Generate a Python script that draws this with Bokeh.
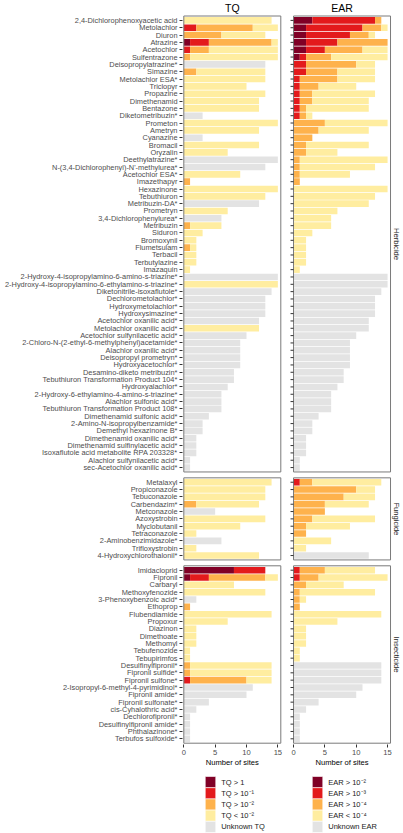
import math
from bokeh.plotting import figure
from bokeh.layouts import column
from bokeh.models import Range1d, FixedTicker, ColumnDataSource
from bokeh.core.properties import value
from bokeh.embed import file_html
from bokeh.resources import INLINE

# ---------------- data (number of sites per category) ----------------
# category order: [> high, > mid, > low, < low, unknown]
herbicide_names = [
    "2,4-Dichlorophenoxyacetic acid", "Metolachlor", "Diuron", "Atrazine", "Acetochlor",
    "Sulfentrazone", "Deisopropylatrazine*", "Simazine", "Metolachlor ESA*", "Triclopyr",
    "Propazine", "Dimethenamid", "Bentazone", "Diketometribuzin*", "Prometon", "Ametryn",
    "Cyanazine", "Bromacil", "Oryzalin", "Deethylatrazine*",
    "N-(3,4-Dichlorophenyl)-N'-methylurea*", "Acetochlor ESA*", "Imazethapyr", "Hexazinone",
    "Tebuthiuron", "Metribuzin-DA*", "Prometryn", "3,4-Dichlorophenylurea*", "Metribuzin",
    "Siduron", "Bromoxynil", "Flumetsulam", "Terbacil", "Terbutylazine", "Imazaquin",
    "2-Hydroxy-4-isopropylamino-6-amino-s-triazine*",
    "2-Hydroxy-4-isopropylamino-6-ethylamino-s-triazine*",
    "Diketonitrile-isoxaflutole*", "Dechlorometolachlor*", "Hydroxymetolachlor*",
    "Hydroxysimazine*", "Acetochlor oxanilic acid*", "Metolachlor oxanilic acid*",
    "Acetochlor sulfynilacetic acid*", "2-Chloro-N-(2-ethyl-6-methylphenyl)acetamide*",
    "Alachlor oxanilic acid*", "Deisopropyl prometryn*", "Hydroxyacetochlor*",
    "Desamino-diketo metribuzin*", "Tebuthiuron Transformation Product 104*",
    "Hydroxyalachlor*", "2-Hydroxy-6-ethylamino-4-amino-s-triazine*",
    "Alachlor sulfonic acid*", "Tebuthiuron Transformation Product 108*",
    "Dimethenamid sulfonic acid*", "2-Amino-N-isopropylbenzamide*",
    "Demethyl hexazinone B*", "Dimethenamid oxanilic acid*",
    "Dimethenamid sulfinylacetic acid*", "Isoxaflutole acid metabolite RPA 203328*",
    "Alachlor sulfynilacetic acid*", "sec-Acetochlor oxanilic acid*",
]
herbicide_tq = [
    (0, 0, 0, 14, 0), (0, 2, 9, 4, 0), (0, 0, 6, 7, 0), (1, 3, 10, 1, 0), (0, 1, 3, 11, 0),
    (0, 0, 1, 14, 0), (0, 0, 0, 0, 13), (0, 0, 2, 11, 0), (0, 0, 0, 13, 0), (0, 0, 0, 10, 0),
    (0, 0, 0, 13, 0), (0, 0, 0, 12, 0), (0, 0, 0, 12, 0), (0, 0, 0, 0, 3), (0, 0, 0, 15, 0),
    (0, 0, 0, 12, 0), (0, 0, 0, 0, 3), (0, 0, 0, 12, 0), (0, 0, 0, 7, 0), (0, 0, 0, 0, 15),
    (0, 0, 0, 0, 13), (0, 0, 0, 9, 0), (0, 0, 1, 0, 0), (0, 0, 0, 15, 0),
    (0, 0, 0, 13, 0), (0, 0, 0, 0, 12), (0, 0, 0, 7, 0), (0, 0, 0, 0, 6), (0, 0, 1, 5, 0),
    (0, 0, 0, 3, 0), (0, 0, 0, 2, 0), (0, 0, 1, 1, 0), (0, 0, 0, 2, 0), (0, 0, 0, 2, 0),
    (0, 0, 0, 1, 0),
    (0, 0, 0, 0, 15), (0, 0, 0, 15, 0), (0, 0, 0, 0, 14), (0, 0, 0, 0, 13), (0, 0, 0, 0, 13),
    (0, 0, 0, 0, 13), (0, 0, 0, 0, 12), (0, 0, 0, 12, 0), (0, 0, 0, 0, 10), (0, 0, 0, 0, 9),
    (0, 0, 0, 0, 9), (0, 0, 0, 0, 9), (0, 0, 0, 0, 9), (0, 0, 0, 0, 8), (0, 0, 0, 0, 8),
    (0, 0, 0, 0, 7), (0, 0, 0, 0, 6), (0, 0, 0, 0, 6), (0, 0, 0, 0, 6), (0, 0, 0, 0, 4),
    (0, 0, 0, 0, 3), (0, 0, 0, 0, 3), (0, 0, 0, 0, 2), (0, 0, 0, 0, 2), (0, 0, 0, 0, 2),
    (0, 0, 0, 0, 1), (0, 0, 0, 0, 1),
]
herbicide_ear = [
    (3, 10, 1, 0, 0), (2, 9, 3, 1, 0), (2, 7, 3, 1, 0), (2, 5, 8, 0, 0), (2, 3, 6, 4, 0),
    (1, 1, 4, 9, 0), (0, 2, 8, 3, 0), (0, 2, 5, 6, 0), (0, 1, 6, 6, 0), (0, 1, 3, 6, 0),
    (0, 1, 2, 10, 0), (0, 1, 2, 9, 0), (0, 1, 1, 10, 0), (0, 1, 1, 1, 0), (0, 0, 5, 10, 0),
    (0, 0, 4, 8, 0), (0, 0, 3, 0, 0), (0, 0, 2, 10, 0), (0, 0, 2, 5, 0), (0, 0, 1, 14, 0),
    (0, 0, 1, 12, 0), (0, 0, 1, 8, 0), (0, 0, 1, 0, 0), (0, 0, 0, 15, 0),
    (0, 0, 0, 13, 0), (0, 0, 0, 12, 0), (0, 0, 0, 7, 0), (0, 0, 0, 6, 0), (0, 0, 0, 6, 0),
    (0, 0, 0, 3, 0), (0, 0, 0, 2, 0), (0, 0, 0, 2, 0), (0, 0, 0, 2, 0), (0, 0, 0, 2, 0),
    (0, 0, 0, 1, 0),
    (0, 0, 0, 0, 15), (0, 0, 0, 0, 15), (0, 0, 0, 0, 14), (0, 0, 0, 0, 13), (0, 0, 0, 0, 13),
    (0, 0, 0, 0, 13), (0, 0, 0, 0, 12), (0, 0, 0, 0, 12), (0, 0, 0, 0, 10), (0, 0, 0, 0, 9),
    (0, 0, 0, 0, 9), (0, 0, 0, 0, 9), (0, 0, 0, 0, 9), (0, 0, 0, 0, 8), (0, 0, 0, 0, 8),
    (0, 0, 0, 0, 7), (0, 0, 0, 0, 6), (0, 0, 0, 0, 6), (0, 0, 0, 0, 6), (0, 0, 0, 0, 4),
    (0, 0, 0, 0, 3), (0, 0, 0, 0, 3), (0, 0, 0, 0, 2), (0, 0, 0, 0, 2), (0, 0, 0, 0, 2),
    (0, 0, 0, 0, 1), (0, 0, 0, 0, 1),
]

fungicide_names = [
    "Metalaxyl", "Propiconazole", "Tebuconazole", "Carbendazim*", "Metconazole",
    "Azoxystrobin", "Myclobutanil", "Tetraconazole", "2-Aminobenzimidazole*",
    "Trifloxystrobin", "4-Hydroxychlorothalonil*",
]
fungicide_tq = [
    (0, 0, 0, 14, 0), (0, 0, 0, 13, 0), (0, 0, 0, 13, 0), (0, 0, 2, 10, 0), (0, 0, 0, 0, 5),
    (0, 0, 0, 13, 0), (0, 0, 0, 9, 0), (0, 0, 0, 2, 0), (0, 0, 0, 0, 6), (0, 0, 0, 2, 0),
    (0, 0, 0, 12, 0),
]
fungicide_ear = [
    (0, 1, 2, 11, 0), (0, 0, 10, 3, 0), (0, 0, 8, 5, 0), (0, 0, 5, 7, 0), (0, 0, 5, 0, 0),
    (0, 0, 3, 10, 0), (0, 0, 2, 7, 0), (0, 0, 2, 0, 0), (0, 0, 0, 6, 0), (0, 0, 0, 2, 0),
    (0, 0, 0, 0, 12),
]

insecticide_names = [
    "Imidacloprid", "Fipronil", "Carbaryl", "Methoxyfenozide", "3-Phenoxybenzoic acid*",
    "Ethoprop", "Flubendiamide", "Propoxur", "Diazinon", "Dimethoate", "Methomyl",
    "Tebufenozide", "Tebupirimfos", "Desulfinylfipronil*", "Fipronil sulfide*",
    "Fipronil sulfone*", "2-Isopropyl-6-methyl-4-pyrimidinol*", "Fipronil amide*",
    "Fipronil sulfonate*", "cis-Cyhalothric acid*", "Dechlorofipronil*",
    "Desulfinylfipronil amide*", "Phthalazinone*", "Terbufos sulfoxide*",
]
insecticide_tq = [
    (8, 5, 0, 0, 0), (1, 3, 9, 2, 0), (0, 0, 0, 8, 0), (0, 0, 0, 13, 0), (0, 0, 0, 0, 2),
    (0, 0, 1, 0, 0), (0, 0, 0, 14, 0), (0, 0, 0, 7, 0), (0, 0, 0, 2, 0), (0, 0, 0, 2, 0),
    (0, 0, 0, 2, 0), (0, 0, 0, 1, 0), (0, 0, 0, 1, 0), (0, 0, 1, 13, 0), (0, 0, 1, 13, 0),
    (0, 1, 9, 4, 0), (0, 0, 0, 0, 11), (0, 0, 0, 0, 10), (0, 0, 0, 0, 4), (0, 0, 0, 0, 2),
    (0, 0, 0, 0, 1), (0, 0, 0, 0, 1), (0, 0, 0, 0, 1), (0, 0, 0, 0, 1),
]
insecticide_ear = [
    (0, 1, 4, 8, 0), (0, 1, 3, 11, 0), (0, 0, 2, 6, 0), (0, 0, 1, 12, 0), (0, 0, 1, 1, 0),
    (0, 0, 1, 0, 0), (0, 0, 0, 14, 0), (0, 0, 0, 7, 0), (0, 0, 0, 2, 0), (0, 0, 0, 2, 0),
    (0, 0, 0, 2, 0), (0, 0, 0, 1, 0), (0, 0, 0, 1, 0), (0, 0, 0, 0, 14), (0, 0, 0, 0, 14),
    (0, 0, 0, 0, 14), (0, 0, 0, 0, 11), (0, 0, 0, 0, 10), (0, 0, 0, 0, 4), (0, 0, 0, 0, 2),
    (0, 0, 0, 0, 1), (0, 0, 0, 0, 1), (0, 0, 0, 0, 1), (0, 0, 0, 0, 1),
]

group_names = ["Herbicide", "Fungicide", "Insecticide"]
panel_titles = ["TQ", "EAR"]
tq_levels = ["TQ > 1", "TQ > 10\u207b\u00b9", "TQ > 10\u207b\u00b2", "TQ < 10\u207b\u00b2", "Unknown TQ"]
ear_levels = ["EAR > 10\u207b\u00b2", "EAR > 10\u207b\u00b3", "EAR > 10\u207b\u2074", "EAR < 10\u207b\u2074", "Unknown EAR"]
level_colors = ["#800026", "#E31A1C", "#FEB24C", "#FFEDA0", "#E3E3E3"]
x_ticks = [0, 5, 10, 15]

# ---------------- geometry ----------------
FONT = value("Liberation Sans")
FIG_W = 403
LEFT = 182
FRAME_W = FIG_W - LEFT
PANEL_W = 97.0
XMAX = 15.47
ppu = PANEL_W / XMAX            # px per site
EAR_OFF = 17.5                  # second panel offset, in site units
x_start = -1.3 / ppu
x_end = x_start + FRAME_W / ppu

MAIN_H = 758
BOTTOM = 14
FRAME_H = MAIN_H - BOTTOM
TOP_PX = 15.5                   # first panel top, px from frame top
BOT_PX = 742.7                  # last panel bottom, px from frame top

groups = [
    (group_names[0], herbicide_names, herbicide_tq, herbicide_ear),
    (group_names[1], fungicide_names, fungicide_tq, fungicide_ear),
    (group_names[2], insecticide_names, insecticide_tq, insecticide_ear),
]

# row positions (integers), groups separated by one empty unit
pos = 1
ypos, ylabels, panels = [], [], []
for gname, names, tq, ear in groups:
    first = pos
    for n in names:
        ypos.append(pos)
        ylabels.append(n)
        pos += 1
    last = pos - 1
    panels.append((gname, first - 0.6, last + 0.6))
    pos += 1

top_edge = panels[0][1]
bot_edge = panels[-1][2]
u = (BOT_PX - TOP_PX) / (bot_edge - top_edge)   # px per row
y_top = top_edge - TOP_PX / u
y_bot = y_top + FRAME_H / u

# ---------------- bars ----------------
bl, br, by, bc = [], [], [], []
i = 0
for gname, names, tq, ear in groups:
    for k in range(len(names)):
        for off, counts in ((0.0, tq[k]), (EAR_OFF, ear[k])):
            left = 0
            for c, col in zip(counts, level_colors):
                if c > 0:
                    bl.append(off + left)
                    br.append(off + left + c)
                    by.append(ypos[i])
                    bc.append(col)
                    left += c
        i += 1
bars = ColumnDataSource(dict(left=bl, right=br, y=by, color=bc))

p = figure(width=FIG_W, height=MAIN_H, output_backend="svg", toolbar_location=None,
           x_range=Range1d(x_start, x_end), y_range=Range1d(y_bot, y_top),
           min_border_left=LEFT, min_border_right=0, min_border_top=0,
           min_border_bottom=BOTTOM)
p.outline_line_color = None
p.xgrid.visible = False
p.ygrid.visible = False
p.background_fill_color = "white"

p.hbar(y="y", left="left", right="right", height=0.9, fill_color="color",
       line_color=None, source=bars)

# panel borders
ql, qr, qt, qb = [], [], [], []
for gname, t, b in panels:
    for off in (0.0, EAR_OFF):
        ql.append(off); qr.append(off + XMAX); qt.append(t); qb.append(b)
p.quad(left=ql, right=qr, top=qt, bottom=qb, fill_color=None,
       line_color="#7a7a7a", line_width=1)

# tick marks on the EAR panels
tick_len = 3 / ppu
p.segment(x0=[EAR_OFF - tick_len] * len(ypos), x1=[EAR_OFF] * len(ypos),
          y0=ypos, y1=ypos, line_color="#333333", line_width=1)

# strip labels
p.text(x=[EAR_OFF + XMAX + 5.5 / ppu] * 3, y=[(t + b) / 2 for _, t, b in panels],
       text=[g for g, _, _ in panels], angle=-math.pi / 2, text_align="center",
       text_baseline="middle", text_font=FONT, text_font_size="7.6px",
       text_color="#1a1a1a")

# panel titles
p.text(x=[XMAX / 2, EAR_OFF + XMAX / 2], y=[y_top + 7.5 / u] * 2, text=panel_titles,
       text_align="center", text_baseline="middle", text_font=FONT,
       text_font_size="10.5px", text_color="black")

# axes
p.yaxis.ticker = FixedTicker(ticks=ypos)
p.yaxis.major_label_overrides = {yy: lab for yy, lab in zip(ypos, ylabels)}
p.yaxis.major_label_text_font = "Liberation Sans"
p.yaxis.major_label_text_font_size = "7.4px"
p.yaxis.major_label_text_color = "#4d4d4d"
p.yaxis.major_label_standoff = 2
p.yaxis.major_tick_out = 3
p.yaxis.major_tick_in = 0
p.yaxis.minor_tick_line_color = None
p.yaxis.axis_line_color = None
p.yaxis.major_tick_line_color = "#333333"

xt = x_ticks + [EAR_OFF + t for t in x_ticks]
p.xaxis.ticker = FixedTicker(ticks=xt)
p.xaxis.major_label_overrides = {float(t): str(v) for t, v in zip(xt, x_ticks + x_ticks)}
p.xaxis.major_label_text_font = "Liberation Sans"
p.xaxis.major_label_text_font_size = "7.6px"
p.xaxis.major_label_text_color = "#4d4d4d"
p.xaxis.major_label_standoff = 2
p.xaxis.major_tick_out = 3
p.xaxis.major_tick_in = 0
p.xaxis.minor_tick_line_color = None
p.xaxis.axis_line_color = None
p.xaxis.major_tick_line_color = "#333333"

# ---------------- axis titles + legends ----------------
LEG_H = 75
lg = figure(width=FIG_W, height=LEG_H, output_backend="svg", toolbar_location=None,
            x_range=Range1d(x_start, x_end), y_range=Range1d(LEG_H, 0),
            x_axis_type=None, y_axis_type=None,
            min_border_left=LEFT, min_border_right=0, min_border_top=0,
            min_border_bottom=0)
lg.outline_line_color = None
lg.xgrid.visible = False
lg.ygrid.visible = False

lg.text(x=[XMAX / 2, EAR_OFF + XMAX / 2], y=[3.8, 3.8], text=["Number of sites"] * 2,
        text_align="center", text_baseline="middle", text_font=FONT,
        text_font_size="7.6px", text_color="black")

KEY = 11.2
key_top = 18
for off, key_dx, text_dx, labels in ((0.0, 21.7, 37.4, tq_levels),
                                     (EAR_OFF, 19.0, 34.7, ear_levels)):
    kx = off + (key_dx + 5) / ppu
    ky = [key_top + KEY * j + KEY / 2 for j in range(5)]
    lg.rect(x=[kx] * 5, y=ky, width=10.5, height=KEY, width_units="screen",
            height_units="screen", fill_color=level_colors, line_color="white",
            line_width=0.6)
    lg.text(x=[off + text_dx / ppu] * 5, y=ky, text=labels, text_align="left",
            text_baseline="middle", text_font=FONT, text_font_size="7.5px",
            text_color="#1a1a1a")

layout = column(p, lg)
open("out.html", "w").write(file_html(layout, INLINE))
